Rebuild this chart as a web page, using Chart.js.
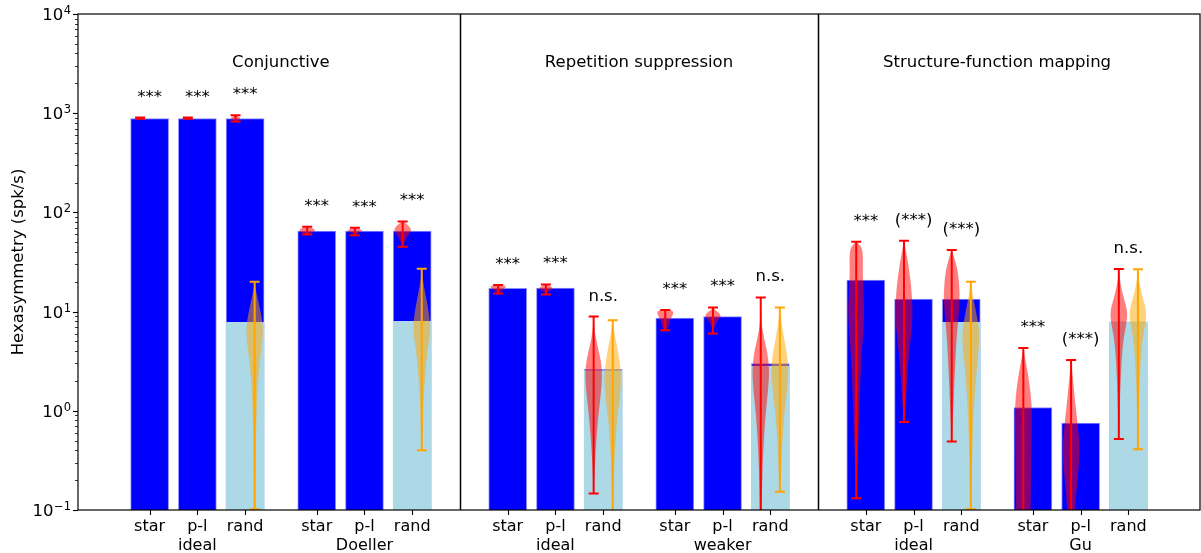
<!DOCTYPE html>
<html>
<head>
<meta charset="utf-8">
<title>Hexasymmetry</title>
<script src="https://cdn.jsdelivr.net/npm/chart.js@4.4.1/dist/chart.umd.min.js"></script>
<style>
  html, body { margin: 0; padding: 0; background: #fff; }
  canvas { display: block; }
</style>
</head>
<body>
<canvas id="hexChart" width="1201" height="553"></canvas>
<script>
const panelTitles = ['Conjunctive', 'Repetition suppression', 'Structure-function mapping'];
const groupNames = ['ideal', 'Doeller', 'ideal', 'weaker', 'ideal', 'Gu'];
const barNames = ['star', 'p-l', 'rand'];
const yTickValues = [0.1, 1, 10, 100, 1000, 10000];

// hexasymmetry per bar (blue), and the random baseline drawn over the rand bars (light blue)
const hexValues = [885, 885, 885, 65, 65, 65, 17.2, 17.3, 2.62, 8.6, 8.9, 3.0, 20.8, 13.4, 13.4, 1.08, 0.75, 7.5];
const randValues = [7.8, 8.0, 2.55, 2.83, 7.8, 7.9];

// error bar ranges [low, high]
const redErr = [
  [878, 905], [880, 903], [825, 955], [60, 71.5], [59, 70], [45, 81],
  [15.2, 18.5], [14.9, 18.8], [0.147, 8.9], [6.5, 10.4], [6.0, 11.0], [0.05, 13.9],
  [0.131, 50.7], [0.77, 51.8], [0.49, 41.8], [0.05, 4.3], [0.05, 3.25], [0.52, 26.9]
];
const orangeErr = [[0.102, 20], [0.4, 27], [0.05, 8.2], [0.153, 11.0], [0.102, 20], [0.41, 26.7]];

const sigLabels = [
  '***', '***', '***', '***', '***', '***',
  '***', '***', 'n.s.', '***', '***', 'n.s.',
  '***', '(***)', '(***)', '***', '(***)', 'n.s.'
];

// violin outlines: [value, relative half width], top to bottom
const redViolins = [
  [[905, 0], [898, 0.45], [890, 0.5], [883, 0.45], [878, 0]],
  [[903, 0], [897, 0.45], [890, 0.5], [884, 0.45], [880, 0]],
  [[955, 0], [930, 0.3], [905, 0.55], [880, 0.5], [850, 0.2], [825, 0]],
  [[71.5, 0], [69, 0.7], [66, 0.95], [63, 0.8], [60, 0]],
  [[70, 0], [67.5, 0.6], [65.5, 0.95], [63.5, 0.6], [60, 0]],
  [[81, 0], [76, 0.5], [70, 0.9], [65, 1], [60, 0.7], [53, 0.35], [47, 0.1], [45, 0]],
  [[18.6, 0.1], [18.3, 0.85], [17.6, 0.9], [16.8, 0.65], [16, 0.35], [15.2, 0]],
  [[18.8, 0], [18, 0.5], [17.2, 0.9], [16.5, 0.55], [15.5, 0.15], [14.9, 0]],
  [[8.9, 0], [6, 0.15], [4.5, 0.45], [3.2, 0.85], [2.3, 1], [1.5, 0.85], [0.9, 0.55], [0.5, 0.3], [0.25, 0.12], [0.147, 0]],
  [[10.5, 0.1], [10.2, 0.9], [9.4, 0.95], [8.5, 0.6], [7.5, 0.45], [6.8, 0.3], [6.4, 0]],
  [[11, 0], [10.3, 0.3], [9.5, 0.85], [8.8, 0.9], [8, 0.45], [7, 0.15], [6.2, 0]],
  [[13.9, 0], [8, 0.05], [5.5, 0.35], [3.8, 0.8], [2.5, 1], [1.6, 0.85], [0.9, 0.55], [0.5, 0.35], [0.25, 0.2], [0.1, 0.1], [0.06, 0.05]],
  [[50.7, 0], [45, 0.65], [35, 0.8], [25, 0.75], [15, 0.85], [10, 0.95], [6, 0.8], [3, 0.55], [1, 0.35], [0.4, 0.2], [0.131, 0]],
  [[51.8, 0], [40, 0.25], [28, 0.55], [18, 0.85], [11, 1], [7, 0.95], [4, 0.6], [2, 0.35], [1.2, 0.2], [0.77, 0]],
  [[41.8, 0], [35, 0.3], [25, 0.75], [15, 0.95], [10, 0.85], [6, 0.6], [3, 0.4], [1.5, 0.25], [0.8, 0.12], [0.49, 0]],
  [[4.3, 0], [3.2, 0.25], [2.2, 0.6], [1.4, 0.9], [0.9, 1], [0.5, 0.95], [0.25, 0.9], [0.1, 0.85], [0.06, 0.8]],
  [[3.25, 0], [2.2, 0.2], [1.4, 0.4], [0.9, 0.65], [0.55, 0.9], [0.4, 1], [0.25, 0.85], [0.15, 0.6], [0.1, 0.45], [0.06, 0.3]],
  [[26.9, 0], [20, 0.15], [15, 0.45], [11, 0.9], [9, 1], [7, 0.8], [5, 0.5], [3, 0.3], [1.5, 0.15], [0.8, 0.08], [0.52, 0]]
];
const orangeViolins = [
  [[20, 0], [16, 0.15], [12, 0.5], [8, 0.9], [6, 1], [4, 0.75], [2.6, 0.5], [1.5, 0.3], [0.8, 0.2], [0.3, 0.1], [0.1, 0.05]],
  [[27, 0], [20, 0.15], [14, 0.5], [9, 0.9], [6.5, 1], [4.5, 0.75], [3, 0.5], [1.8, 0.3], [1, 0.15], [0.55, 0.08], [0.4, 0]],
  [[8.2, 0], [6, 0.2], [4.5, 0.5], [3, 0.85], [2.1, 1], [1.3, 0.8], [0.8, 0.5], [0.4, 0.25], [0.2, 0.12], [0.1, 0.06], [0.06, 0.03]],
  [[11, 0], [7.5, 0.2], [5, 0.55], [3.5, 0.9], [2.4, 1], [1.5, 0.8], [0.9, 0.5], [0.45, 0.25], [0.2, 0.1], [0.153, 0]],
  [[20, 0], [15, 0.2], [11, 0.5], [7, 0.95], [5, 1], [3, 0.75], [1.5, 0.45], [0.8, 0.3], [0.4, 0.18], [0.2, 0.1], [0.1, 0.05]],
  [[26.7, 0], [20, 0.15], [15, 0.45], [11, 0.9], [9, 1], [7, 0.8], [5, 0.5], [3, 0.3], [1.5, 0.15], [0.7, 0.08], [0.41, 0]]
];

const FONT = '"DejaVu Sans", sans-serif';
const randIdx = [2, 5, 8, 11, 14, 17];

// panels are 7.5 units apart, the two groups in a panel 3.5 apart
function barX(i) {
  const panel = Math.floor(i / 6), group = Math.floor(i / 3) % 2, bar = i % 3;
  return panel * 7.5 + group * 3.5 + bar;
}
const tickPositions = hexValues.map((v, i) => barX(i));
const tickLabels = hexValues.map((v, i) =>
  i % 3 === 1 ? [barNames[1], groupNames[Math.floor(i / 3)]] : [barNames[i % 3]]);

function drawViolin(ctx, yScale, pts, cx, half, color) {
  const right = pts.map(([v, w]) => [cx + w * half, yScale.getPixelForValue(v)]);
  const left = pts.map(([v, w]) => [cx - w * half, yScale.getPixelForValue(v)]).reverse();
  const ring = right.concat(left);
  const n = ring.length;
  const mid = (p, q) => [(p[0] + q[0]) / 2, (p[1] + q[1]) / 2];
  const start = mid(ring[n - 1], ring[0]);
  ctx.beginPath();
  ctx.moveTo(start[0], start[1]);
  for (let i = 0; i < n; i++) {
    const p = ring[i], m = mid(p, ring[(i + 1) % n]);
    ctx.quadraticCurveTo(p[0], p[1], m[0], m[1]);
  }
  ctx.closePath();
  ctx.fillStyle = color;
  ctx.fill();
}

function drawErr(ctx, yScale, cx, lo, hi, color) {
  const y0 = yScale.getPixelForValue(lo), y1 = yScale.getPixelForValue(hi);
  ctx.strokeStyle = color;
  ctx.lineWidth = 2;
  ctx.beginPath();
  ctx.moveTo(cx, y0); ctx.lineTo(cx, y1);
  ctx.moveTo(cx - 5, y0); ctx.lineTo(cx + 5, y0);
  ctx.moveTo(cx - 5, y1); ctx.lineTo(cx + 5, y1);
  ctx.stroke();
}

const decor = {
  id: 'decor',
  afterDatasetsDraw(chart) {
    const { ctx, chartArea: a, scales: { x, y } } = chart;
    const half = 0.18 * (x.getPixelForValue(1) - x.getPixelForValue(0));
    ctx.save();
    ctx.beginPath();
    ctx.rect(a.left, a.top, a.right - a.left, a.bottom - a.top);
    ctx.clip();
    redViolins.forEach((pts, i) =>
      drawViolin(ctx, y, pts, x.getPixelForValue(barX(i) - 0.2), half, 'rgba(255,0,0,0.5)'));
    orangeViolins.forEach((pts, k) =>
      drawViolin(ctx, y, pts, x.getPixelForValue(barX(randIdx[k]) + 0.2), half, 'rgba(255,165,0,0.5)'));
    redErr.forEach(([lo, hi], i) => drawErr(ctx, y, x.getPixelForValue(barX(i) - 0.2), lo, hi, '#ff0000'));
    orangeErr.forEach(([lo, hi], k) => drawErr(ctx, y, x.getPixelForValue(barX(randIdx[k]) + 0.2), lo, hi, '#ffa500'));
    ctx.restore();

    // significance marks above the highest error bar of each bar
    ctx.save();
    ctx.fillStyle = '#000';
    ctx.font = '16.5px ' + FONT;
    ctx.textAlign = 'center';
    ctx.textBaseline = 'alphabetic';
    sigLabels.forEach((s, i) => {
      let top = redErr[i][1];
      const k = randIdx.indexOf(i);
      if (k >= 0) top = Math.max(top, orangeErr[k][1]);
      ctx.fillText(s, x.getPixelForValue(barX(i)), y.getPixelForValue(top) - 16);
    });
    panelTitles.forEach((t, p) => {
      ctx.fillText(t, x.getPixelForValue(p * 7.5 + 2.75), a.top + 52.5);
    });
    ctx.restore();
  },
  afterDraw(chart) {
    const { ctx, chartArea: a, scales: { x, y } } = chart;
    ctx.save();
    ctx.strokeStyle = '#000';

    // panel separators
    ctx.lineWidth = 1.5;
    [6.5, 14].forEach(v => {
      const px = Math.round(x.getPixelForValue(v)) + 0.5;
      ctx.beginPath(); ctx.moveTo(px, a.top); ctx.lineTo(px, a.bottom); ctx.stroke();
    });

    // frame
    ctx.lineWidth = 1.2;
    ctx.strokeRect(a.left, a.top, a.right - a.left, a.bottom - a.top);

    // y ticks, major and minor
    for (let e = -1; e <= 4; e++) {
      for (let m = 1; m <= 9; m++) {
        if (e === 4 && m > 1) break;
        const py = Math.round(y.getPixelForValue(m * Math.pow(10, e))) + 0.5;
        ctx.lineWidth = m === 1 ? 1.1 : 0.8;
        ctx.beginPath(); ctx.moveTo(a.left, py); ctx.lineTo(a.left - (m === 1 ? 5 : 3), py); ctx.stroke();
      }
    }
    // x ticks
    ctx.lineWidth = 1.1;
    tickPositions.forEach(v => {
      const px = Math.round(x.getPixelForValue(v)) + 0.5;
      ctx.beginPath(); ctx.moveTo(px, a.bottom); ctx.lineTo(px, a.bottom + 5); ctx.stroke();
    });

    // y tick labels as 10 with a raised exponent
    ctx.fillStyle = '#000';
    ctx.textAlign = 'right';
    ctx.textBaseline = 'alphabetic';
    yTickValues.forEach(v => {
      const py = y.getPixelForValue(v);
      const exp = String(Math.round(Math.log10(v))).replace('-', '\u2212');
      const right = a.left - 7;
      ctx.font = '11.5px ' + FONT;
      const ew = ctx.measureText(exp).width;
      ctx.fillText(exp, right, py);
      ctx.font = '16.5px ' + FONT;
      ctx.fillText('10', right - ew - 0.5, py + 6);
    });

    // y axis title
    ctx.font = '16.5px ' + FONT;
    ctx.textAlign = 'center';
    ctx.textBaseline = 'middle';
    ctx.translate(19, (a.top + a.bottom) / 2);
    ctx.rotate(-Math.PI / 2);
    ctx.fillText('Hexasymmetry (spk/s)', 0, 0);
    ctx.restore();
  }
};

Chart.defaults.color = '#000';
Chart.defaults.font.family = FONT;

new Chart(document.getElementById('hexChart'), {
  type: 'bar',
  data: {
    datasets: [
      {
        data: randValues.map((v, k) => ({ x: barX(randIdx[k]), y: v })),
        backgroundColor: '#add8e6',
        borderWidth: 0,
        barThickness: 38,
        grouped: false,
        order: 1
      },
      {
        data: hexValues.map((v, i) => ({ x: barX(i), y: v })),
        backgroundColor: '#0000ff',
        borderColor: 'rgba(0,0,255,0.45)',
        borderWidth: 1,
        barThickness: 38,
        grouped: false,
        order: 2
      }
    ]
  },
  options: {
    responsive: false,
    devicePixelRatio: 1,
    animation: false,
    layout: { padding: { top: 14, right: 1, left: 0, bottom: 0 } },
    plugins: { legend: { display: false }, tooltip: { enabled: false } },
    scales: {
      x: {
        type: 'linear',
        min: -1.5,
        max: 22,
        offset: false,
        grid: { display: false, drawTicks: false },
        border: { display: false },
        afterBuildTicks: s => { s.ticks = tickPositions.map(v => ({ value: v })); },
        afterFit: s => { s.height = 43; },
        ticks: {
          autoSkip: false,
          maxRotation: 0,
          padding: 7,
          font: { size: 16 },
          callback: (v, i) => tickLabels[i]
        }
      },
      y: {
        type: 'logarithmic',
        min: 0.1,
        max: 10000,
        grid: { display: false, drawTicks: false },
        border: { display: false },
        afterBuildTicks: s => { s.ticks = yTickValues.map(v => ({ value: v })); },
        afterFit: s => { s.width = 78; },
        ticks: { display: false }
      }
    }
  },
  plugins: [decor]
});
</script>
</body>
</html>
